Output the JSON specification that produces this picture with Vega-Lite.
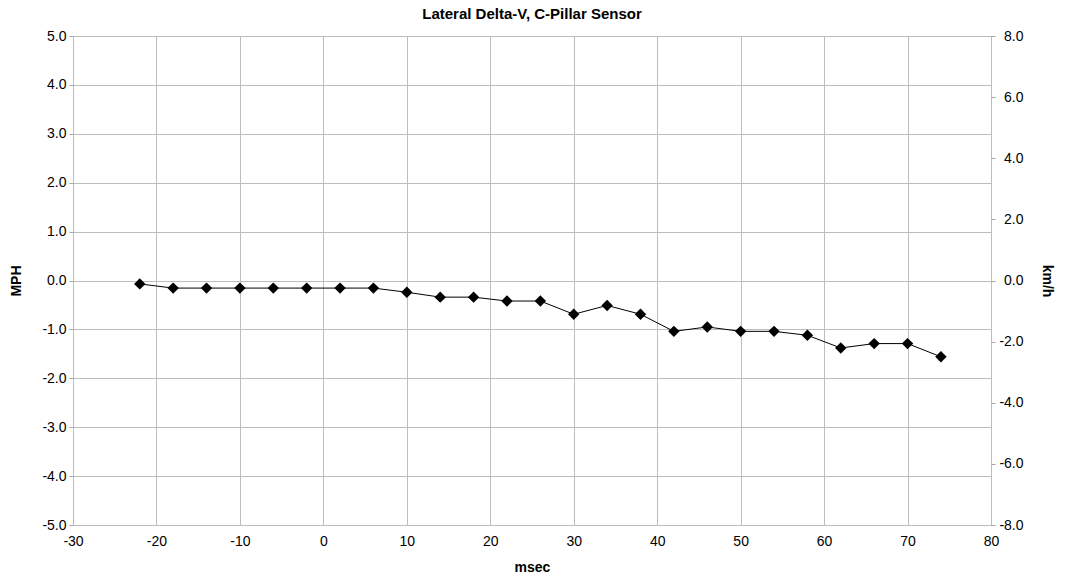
{
  "$schema": "https://vega.github.io/schema/vega-lite/v6.json",
  "width": 918,
  "height": 489,
  "autosize": {"type": "none"},
  "padding": {"left": 73, "top": 36, "right": 74, "bottom": 52},
  "background": "white",
  "title": {
    "text": "Lateral Delta-V, C-Pillar Sensor",
    "font": "Liberation Sans",
    "fontSize": 15,
    "fontWeight": "bold",
    "color": "#000000",
    "anchor": "middle",
    "offset": 7
  },
  "config": {
    "view": {"stroke": "#a6a6a6", "strokeWidth": 1},
    "axis": {
      "labelFont": "Liberation Sans",
      "labelFontSize": 14,
      "labelColor": "#000000",
      "titleFont": "Liberation Sans",
      "titleFontSize": 14,
      "titleFontWeight": "bold",
      "titleColor": "#000000",
      "gridColor": "#bdbdbd",
      "gridOpacity": 1,
      "domain": false
    }
  },
  "data": {
    "values": [
      {"msec": -22, "mph": -0.07, "kmh": -0.11},
      {"msec": -18, "mph": -0.155, "kmh": -0.25},
      {"msec": -14, "mph": -0.155, "kmh": -0.25},
      {"msec": -10, "mph": -0.155, "kmh": -0.25},
      {"msec": -6, "mph": -0.155, "kmh": -0.25},
      {"msec": -2, "mph": -0.155, "kmh": -0.25},
      {"msec": 2, "mph": -0.155, "kmh": -0.25},
      {"msec": 6, "mph": -0.155, "kmh": -0.25},
      {"msec": 10, "mph": -0.24, "kmh": -0.39},
      {"msec": 14, "mph": -0.34, "kmh": -0.55},
      {"msec": 18, "mph": -0.34, "kmh": -0.55},
      {"msec": 22, "mph": -0.42, "kmh": -0.68},
      {"msec": 26, "mph": -0.42, "kmh": -0.68},
      {"msec": 30, "mph": -0.69, "kmh": -1.11},
      {"msec": 34, "mph": -0.51, "kmh": -0.82},
      {"msec": 38, "mph": -0.69, "kmh": -1.11},
      {"msec": 42, "mph": -1.04, "kmh": -1.67},
      {"msec": 46, "mph": -0.95, "kmh": -1.53},
      {"msec": 50, "mph": -1.04, "kmh": -1.67},
      {"msec": 54, "mph": -1.04, "kmh": -1.67},
      {"msec": 58, "mph": -1.12, "kmh": -1.80},
      {"msec": 62, "mph": -1.38, "kmh": -2.22},
      {"msec": 66, "mph": -1.29, "kmh": -2.08},
      {"msec": 70, "mph": -1.29, "kmh": -2.08},
      {"msec": 74, "mph": -1.56, "kmh": -2.51}
    ]
  },
  "encoding": {
    "x": {
      "field": "msec",
      "type": "quantitative",
      "scale": {"domain": [-30, 80], "nice": false, "zero": false},
      "axis": {
        "title": "msec",
        "values": [-30, -20, -10, 0, 10, 20, 30, 40, 50, 60, 70, 80],
        "labelExpr": "replace(format(datum.value, 'd'), '\u2212', '-')",
        "ticks": false,
        "labelPadding": 9,
        "titlePadding": 12,
        "labelFlush": false,
        "labelOverlap": false
      }
    }
  },
  "layer": [
    {
      "encoding": {
        "y": {
          "field": "mph",
          "type": "quantitative",
          "scale": {"domain": [-5, 5], "nice": false},
          "axis": {
            "title": "MPH",
            "orient": "left",
            "values": [-5, -4, -3, -2, -1, 0, 1, 2, 3, 4, 5],
            "labelExpr": "replace(format(datum.value, '.1f'), '\u2212', '-')",
            "ticks": true,
            "tickSize": 4,
            "tickColor": "#a6a6a6",
            "labelPadding": 3,
            "titlePadding": 18,
            "labelFlush": false,
            "labelOverlap": false
          }
        }
      },
      "layer": [
        {
          "mark": {"type": "line", "color": "#000000", "strokeWidth": 1}
        },
        {
          "mark": {"type": "point", "shape": "diamond", "filled": true, "color": "#000000", "opacity": 1, "size": 130}
        }
      ]
    },
    {
      "mark": {"type": "point", "opacity": 0},
      "encoding": {
        "y": {
          "field": "kmh",
          "type": "quantitative",
          "scale": {"domain": [-8, 8], "nice": false},
          "axis": {
            "title": "km/h",
            "orient": "right",
            "values": [-8, -6, -4, -2, 0, 2, 4, 6, 8],
            "labelExpr": "replace(format(datum.value, '.1f'), '\u2212', '-')",
            "grid": false,
            "ticks": true,
            "tickSize": 4,
            "tickColor": "#a6a6a6",
            "labelAlign": "right",
            "labelPadding": 28,
            "titlePadding": 16,
            "labelFlush": false,
            "labelOverlap": false
          }
        }
      }
    }
  ],
  "resolve": {"scale": {"y": "independent"}}
}
